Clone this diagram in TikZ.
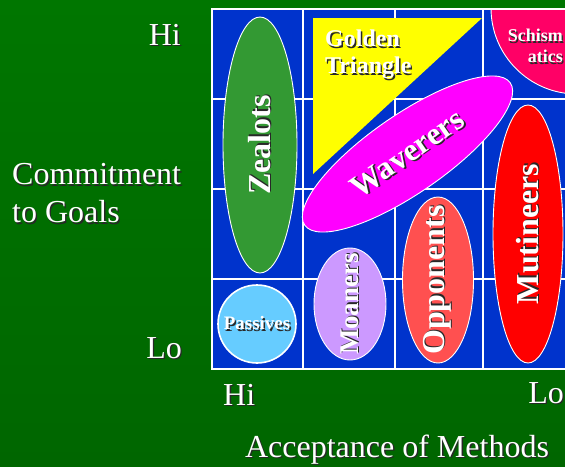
\documentclass[tikz,border=0pt]{standalone}
\usepackage{fontspec}
\setmainfont{Liberation Serif}
\usetikzlibrary{shapes.geometric}

\definecolor{bgtop}{RGB}{0,118,0}
\definecolor{bgbot}{RGB}{0,102,0}
\definecolor{gridblue}{RGB}{0,51,204}
\definecolor{zealotgreen}{RGB}{51,153,51}
\definecolor{goldyellow}{RGB}{255,255,0}
\definecolor{schismred}{RGB}{255,0,102}
\definecolor{wavermag}{RGB}{255,0,255}
\definecolor{mutinyred}{RGB}{255,0,0}
\definecolor{opposalmon}{RGB}{255,80,80}
\definecolor{moanlilac}{RGB}{204,153,255}
\definecolor{passblue}{RGB}{102,204,255}
\definecolor{shadowgray}{RGB}{40,40,40}

\newcommand\shd[1]{\leavevmode\rlap{\kern1.4pt\raisebox{-1.4pt}{\color{shadowgray}#1}}#1}
\newcommand\slim[1]{\makebox[0pt]{\shd{#1}}}

\begin{document}
\begin{tikzpicture}[x=1pt, y=-1pt,
  grp/.style={ellipse, draw=white, line width=0.9pt, inner sep=0pt, text=white,
              font=\bfseries\fontsize{32}{36}\selectfont},
  axis/.style={inner sep=0pt, text=white, font=\fontsize{32}{38}\selectfont},
  gridline/.style={white, line width=1.2pt}]
  \shade[top color=bgtop, bottom color=bgbot] (0,0) rectangle (565,466);
  \useasboundingbox (0,0) rectangle (565,466);

  \fill[gridblue] (212,9) rectangle (570,369);
  \foreach \x in {303,395,483}
    \draw[gridline] (\x,9) -- (\x,369);
  \foreach \y in {99,189,279}
    \draw[gridline] (212,\y) -- (570,\y);
  \draw[white, line width=2pt] (570,9) -- (212,9) -- (212,369) -- (570,369);

  \fill[goldyellow] (313,18) -- (482,18) -- (313,174) -- cycle;
  \node[inner sep=0pt, text=white, align=left, anchor=north west,
        font=\bfseries\fontsize{24}{27}\selectfont] (golden) at (325,30)
        {\shd{Golden}\\\shd{Triangle}};

  \begin{scope}
    \clip (213,10) rectangle (565,368);
    \node[grp, circle, fill=schismred, minimum size=172pt] (schism) at (577,8) {};
  \end{scope}
  \node[inner sep=0pt, text=white, align=right, anchor=north east,
        font=\bfseries\fontsize{18}{21}\selectfont] (schismtext) at (563,29)
        {\shd{Schism}\\\shd{atics}};

  \node[grp, fill=zealotgreen, rotate=90, minimum width=256pt, minimum height=74pt]
        (zealots) at (260,145) {\slim{Zealots}};
  \node[grp, fill=wavermag, rotate=34.7, minimum width=250pt, minimum height=78pt]
        (waverers) at (407.5,154) {\slim{Waverers}};
  \node[grp, fill=mutinyred, rotate=90, minimum width=258pt, minimum height=70pt]
        (mutineers) at (528,234) {\slim{Mutineers}};
  \node[grp, fill=opposalmon, rotate=90, minimum width=166pt, minimum height=71pt]
        (opponents) at (438,280) {\slim{Opponents}};
  \node[grp, fill=moanlilac, rotate=90, minimum width=112pt, minimum height=72pt,
        font=\bfseries\fontsize{27}{30}\selectfont] (moaners) at (350,304) {\slim{Moaners}};
  \node[grp, circle, fill=passblue, minimum size=78pt, line width=1.6pt,
        font=\bfseries\fontsize{19}{22}\selectfont] (passives) at (257,324) {\slim{Passives}};

  \node[axis, anchor=base east] (hiy) at (181,45) {\shd{Hi}};
  \node[axis, anchor=base east] (loy) at (182,358) {\shd{Lo}};
  \node[axis, align=left, anchor=west] (commit) at (12,194)
        {\shd{Commitment}\\\shd{to Goals}};
  \node[axis, anchor=base west] (hix) at (223,405) {\shd{Hi}};
  \node[axis, anchor=base east] (lox) at (564,403) {\shd{Lo}};
  \node[axis, anchor=base] (accept) at (397,457) {\shd{Acceptance of Methods}};
\end{tikzpicture}
\end{document}
